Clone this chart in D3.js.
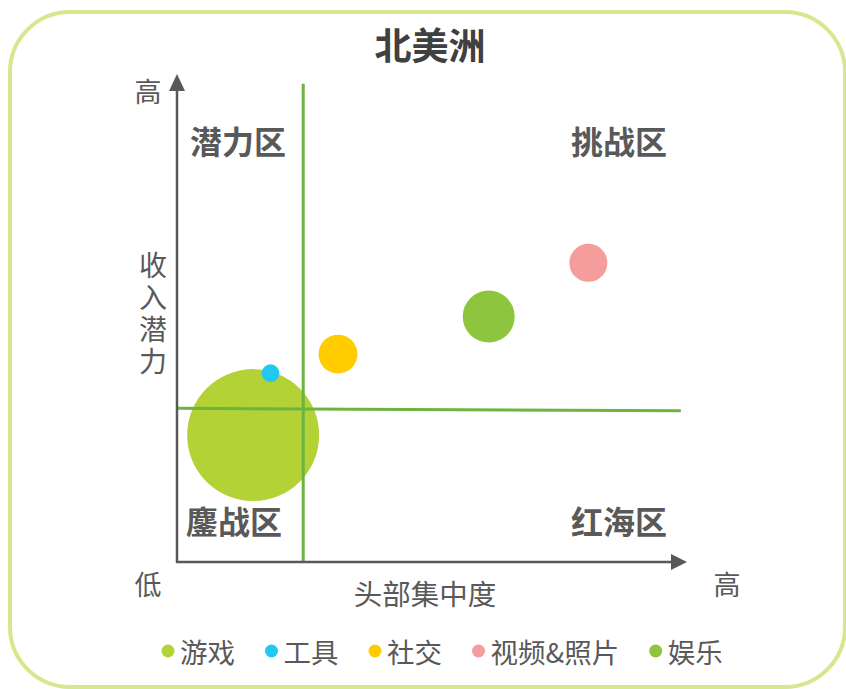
<!DOCTYPE html>
<html>
<head>
<meta charset="utf-8">
<script src="https://cdn.jsdelivr.net/npm/d3@7"></script>
<style>
  html, body { margin: 0; padding: 0; background: #fff; }
  svg { display: block; font-family: "Noto Sans CJK SC", "Noto Sans", sans-serif; }
</style>
</head>
<body>
<svg id="chart" width="846" height="689"></svg>
<script>
// ---- data ----
const categories = ["游戏", "工具", "社交", "视频&照片", "娱乐"];
const concentration = [14.9, 18.3, 31.5, 80.5, 61.0];   // 头部集中度 (x)
const revenuePotential = [26.0, 38.7, 42.6, 61.3, 50.3]; // 收入潜力 (y)
const bubbleSize = [100, 1.8, 8.7, 8.3, 15.5];
const colors = ["#b3d236", "#22c8f0", "#ffcc00", "#f59c9c", "#8dc53f"];
const thresholdX = 24.7;
const thresholdY = [31.5, 31.0];  // left / right end
const quadrantLabels = ["潜力区", "挑战区", "鏖战区", "红海区"];

// ---- layout ----
const svg = d3.select("#chart");
const x = d3.scaleLinear().domain([0, 100]).range([177, 688]);
const y = d3.scaleLinear().domain([0, 100]).range([562, 74]);
const r = d3.scaleSqrt().domain([0, 100]).range([0, 66]);

// border
svg.append("rect")
  .attr("x", 10).attr("y", 12).attr("width", 835).attr("height", 675)
  .attr("rx", 60).attr("ry", 60)
  .attr("fill", "#fff").attr("stroke", "#d6e78e").attr("stroke-width", 4);

// title
svg.append("text").attr("x", 430).attr("y", 44)
  .attr("text-anchor", "middle").attr("dominant-baseline", "central")
  .attr("font-size", 37).attr("font-weight", "bold").attr("fill", "#404040")
  .text("北美洲");

// bubbles
const order = [0, 2, 3, 4, 1];
svg.append("g").selectAll("circle").data(order).join("circle")
  .attr("cx", i => x(concentration[i]))
  .attr("cy", i => y(revenuePotential[i]))
  .attr("r", i => r(bubbleSize[i]))
  .attr("fill", i => colors[i]);

// quadrant lines
const green = "#6db33f";
svg.append("line")
  .attr("x1", x(thresholdX)).attr("x2", x(thresholdX))
  .attr("y1", y(98)).attr("y2", y(0))
  .attr("stroke", green).attr("stroke-width", 3);
svg.append("line")
  .attr("x1", x(0)).attr("x2", x(98.6))
  .attr("y1", y(thresholdY[0])).attr("y2", y(thresholdY[1]))
  .attr("stroke", green).attr("stroke-width", 3);

// axes with arrows
const axisColor = "#595959";
svg.append("line")
  .attr("x1", x(0)).attr("x2", x(0)).attr("y1", y(0) + 1).attr("y2", y(97))
  .attr("stroke", axisColor).attr("stroke-width", 2.5);
svg.append("path")
  .attr("d", `M${x(0)},${y(100)} L${x(0) - 8},${y(100) + 17} L${x(0) + 8},${y(100) + 17} Z`)
  .attr("fill", axisColor);
svg.append("line")
  .attr("x1", x(0) - 1).attr("x2", x(97)).attr("y1", y(0)).attr("y2", y(0))
  .attr("stroke", axisColor).attr("stroke-width", 2.5);
svg.append("path")
  .attr("d", `M${x(100) - 1},${y(0)} L${x(100) - 17},${y(0) - 8} L${x(100) - 17},${y(0) + 8} Z`)
  .attr("fill", axisColor);

// axis labels
const labelColor = "#595959";
function label(t, px, py, size, weight) {
  return svg.append("text").attr("x", px).attr("y", py)
    .attr("text-anchor", "middle").attr("dominant-baseline", "central")
    .attr("font-size", size).attr("font-weight", weight || "normal")
    .attr("fill", labelColor).text(t);
}
label("高", 148, 90, 27);
label("低", 148, 583, 27);
label("高", 727, 583, 27);
label("头部集中度", 425, 592, 28.5);

// vertical y label as one text element
svg.append("text")
  .attr("x", 153).attr("y", 315)
  .attr("text-anchor", "middle")
  .style("writing-mode", "vertical-rl")
  .style("letter-spacing", "4px")
  .attr("font-size", 28).attr("fill", labelColor)
  .text("收入潜力");

// quadrant labels
label(quadrantLabels[0], 238, 140, 32, "bold");
label(quadrantLabels[1], 619, 140, 32, "bold");
label(quadrantLabels[2], 234, 520, 32, "bold");
label(quadrantLabels[3], 619, 520, 32, "bold");

// legend
const lg = svg.append("g");
let lx = 168;
categories.forEach((c, i) => {
  lg.append("circle").attr("cx", lx).attr("cy", 651).attr("r", 6.5).attr("fill", colors[i]);
  const t = lg.append("text").attr("x", lx + 12).attr("y", 651)
    .attr("dominant-baseline", "central").attr("font-size", 27.5)
    .attr("fill", labelColor).text(c);
  const w = t.node().getComputedTextLength();
  lx = lx + 12 + w + 36.5;
});
</script>
</body>
</html>
